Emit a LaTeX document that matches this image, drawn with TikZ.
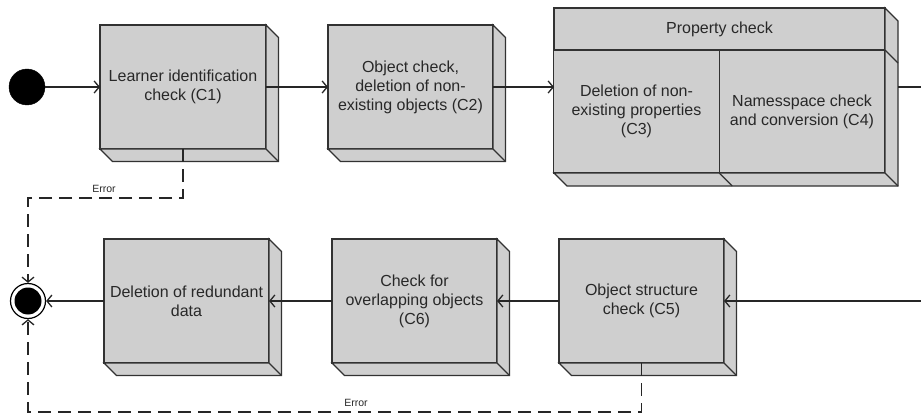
\documentclass[tikz,border=0pt]{standalone}
\usepackage{fontspec}
\setmainfont{Liberation Sans}
\usetikzlibrary{arrows.meta,calc}
\definecolor{boxfill}{RGB}{207,207,207}
\definecolor{edgec}{RGB}{50,50,50}
\definecolor{txt}{RGB}{40,40,40}
\newcommand\extrude[2]{%
  \filldraw[face] (#1.north east) -- ++(#2,#2) -- ($(#1.south east)+(#2,#2)$) -- ($(#1.south west)+(#2,#2)$) -- (#1.south west) -- (#1.south east) -- cycle;
  \draw[face] (#1.south east) -- ++(#2,#2);}
\begin{document}
\begin{tikzpicture}[x=1pt,y=-1pt,
  face/.style={draw=edgec, fill=boxfill, line width=1.2pt},
  box/.style={draw=edgec, fill=boxfill, line width=1.2pt, inner sep=0pt, outer sep=0pt,
    minimum width=165pt, minimum height=124pt, align=center, text=txt,
    font=\fontsize{16}{19}\selectfont},
  cell/.style={box, minimum width=165.5pt, minimum height=123pt},
  conn/.style={draw=black!85, line width=1.3pt},
  arr/.style={conn, -{Straight Barb[length=5pt,width=12pt,line width=1.3pt]}},
  err/.style={conn, dash pattern=on 13pt off 7pt, -{Straight Barb[length=5pt,width=12pt,line width=1.3pt]}},
  errlbl/.style={text=txt, font=\fontsize{10.5}{12}\selectfont, inner sep=1pt}]
\useasboundingbox (0,0) rectangle (921,417);
% top row
\node[circle, fill=black, draw=black, minimum size=36pt, inner sep=0pt] (start) at (27,87) {};
\node[box, minimum width=166pt] (c1) at (183,87) {Learner identification\\check (C1)};
\node[box] (c2) at (410.5,87) {Object check,\\deletion of non-\\existing objects (C2)};
\node[box, minimum width=331pt, minimum height=165pt] (prop) at (719.5,90.5) {};
\node[cell, minimum width=331pt, minimum height=42pt] (ph) at (719.5,29) {Property check};
\node[cell] (c3) at (636.5,111.5) {Deletion of non-\\existing properties\\(C3)};
\node[cell] (c4) at (802,111.5) {Namesspace check\\and conversion (C4)};
% bottom row
\node[box] (del) at (186.5,301) {Deletion of redundant\\data};
\node[box] (c6) at (414.5,301) {Check for\\overlapping objects\\(C6)};
\node[box] (c5) at (641.5,301) {Object structure\\check (C5)};
\node[circle, fill=white, draw=black, line width=1.2pt, minimum size=35pt, inner sep=0pt] (endc) at (28,301) {};
\node[circle, fill=black, minimum size=27pt, inner sep=0pt] (endin) at (endc.center) {};
% extrusions
\extrude{c1}{12.5}
\extrude{c2}{12.5}
\extrude{prop}{13}
\draw[face] (ph.south east) -- ++(13,13);
\draw[face] (c3.south east) -- ++(13,13);
\extrude{del}{12.5}
\extrude{c6}{12.5}
\extrude{c5}{12.5}
% connectors
\coordinate (out1) at (921,87);
\coordinate (in2) at (921,301);
\draw[arr] (start) -- (c1.west);
\draw[arr] (c1.east) -- (c2.west);
\draw[arr] (c2.east) -- (c2.east -| prop.west);
\draw[conn] ($(c2.east -| prop.east)+(13,0)$) -- (out1);
\draw[arr] (in2) -- (c5.east);
\draw[arr] (c5.west) -- (c6.east);
\draw[arr] (c6.west) -- (del.east);
\draw[arr] (del.west) -- (endc.east);
\draw[err] (c1.south) -- ++(0,49) -| (endc.north);
\draw[err] (c5.south) -- ++(0,49) -| (endc.south);
\node[errlbl] (e1) at (104,189) {Error};
\node[errlbl] (e2) at (356,403) {Error};
\end{tikzpicture}
\end{document}
